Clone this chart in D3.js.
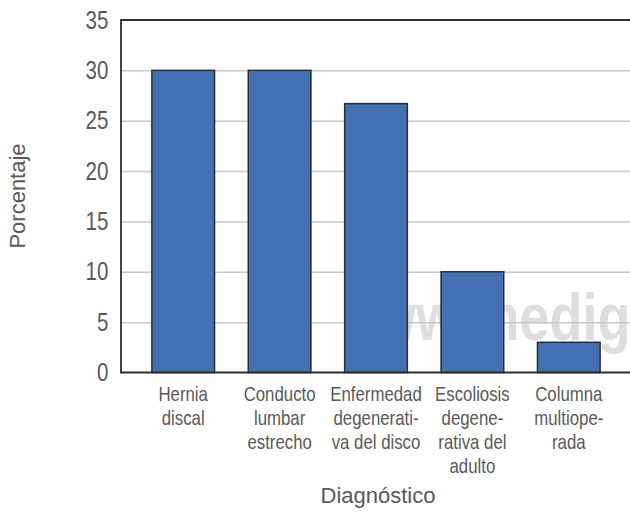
<!DOCTYPE html>
<html>
<head>
<meta charset="utf-8">
<script src="https://cdn.jsdelivr.net/npm/d3@7/dist/d3.min.js"></script>
<style>
  html, body { margin: 0; padding: 0; background: #fff; }
  svg { display: block; }
</style>
</head>
<body>
<script>
// Diagnoses and their share of patients (%)
const categories = [
  ["Hernia", "discal"],
  ["Conducto", "lumbar", "estrecho"],
  ["Enfermedad", "degenerati-", "va del disco"],
  ["Escoliosis", "degene-", "rativa del", "adulto"],
  ["Columna", "multiope-", "rada"]
];
const values = [30, 30, 26.7, 10, 3];
const yTicks = [0, 5, 10, 15, 20, 25, 30, 35];
const yTitle = "Porcentaje";
const xTitle = "Diagnóstico";
const watermark = "ww.medig";

const W = 630, H = 512;
const plot = { left: 121, right: 630, top: 20, bottom: 372.5 };
const textColor = "#595959";
const font = "'Liberation Sans', Arial, sans-serif";
const condense = "scale(0.82,1)";   // narrow face for ticks and labels

const svg = d3.select("body").append("svg")
  .attr("width", W).attr("height", H);

const x = d3.scaleBand()
  .domain(d3.range(categories.length))
  .range([135, 617])
  .paddingInner(0.35)
  .paddingOuter(0.175);

const y = d3.scaleLinear()
  .domain([0, 35])
  .range([plot.bottom, plot.top]);

// faint site mark behind the plot
svg.append("text")
  .attr("transform", `translate(374,340) ${condense}`)
  .attr("font-family", font)
  .attr("font-weight", "bold")
  .attr("font-size", 66)
  .attr("fill", "#dedede")
  .text(watermark);

// horizontal gridlines
const grid = svg.append("g")
  .attr("transform", `translate(${plot.left},0)`)
  .call(d3.axisLeft(y).tickValues(yTicks.filter(d => d > 0 && d < 35))
    .tickSize(-(plot.right - plot.left)).tickFormat(""));
grid.select(".domain").remove();
grid.selectAll("line").attr("stroke", "#c8c8c8").attr("stroke-width", 1.5);

// bars
svg.append("g").selectAll("rect")
  .data(values)
  .join("rect")
  .attr("x", (d, i) => x(i))
  .attr("y", d => y(d))
  .attr("width", x.bandwidth())
  .attr("height", d => y(0) - y(d))
  .attr("fill", "#4470b4")
  .attr("stroke", "#2e2e2e")
  .attr("stroke-width", 1.5);

// plot frame: left, top and bottom edges
svg.append("path")
  .attr("d", `M${plot.right},${y(35)}H${plot.left}V${y(0)}H${plot.right}`)
  .attr("fill", "none")
  .attr("stroke", "#2e2e2e")
  .attr("stroke-width", 1.8);

// y axis tick labels
const yAxis = svg.append("g")
  .attr("transform", `translate(${plot.left},0)`)
  .call(d3.axisLeft(y).tickValues(yTicks).tickSize(0).tickPadding(15.5));
yAxis.select(".domain").remove();
yAxis.selectAll("text")
  .attr("transform", condense)
  .attr("font-family", font)
  .attr("font-size", 25)
  .attr("fill", textColor);

// x axis category labels (multi-line)
const xAxis = svg.append("g")
  .attr("transform", `translate(0,${y(0)})`)
  .call(d3.axisBottom(x).tickSize(0).tickFormat(""));
xAxis.select(".domain").remove();
xAxis.selectAll(".tick").each(function(i) {
  const t = d3.select(this).append("text")
    .attr("transform", condense)
    .attr("font-family", font)
    .attr("font-size", 20.5)
    .attr("fill", textColor)
    .attr("text-anchor", "middle");
  categories[i].forEach((line, k) => {
    t.append("tspan").attr("x", 0).attr("y", 29 + k * 23.8).text(line);
  });
});

// axis titles
svg.append("text")
  .attr("transform", `translate(25,196) rotate(-90)`)
  .attr("text-anchor", "middle")
  .attr("font-family", font)
  .attr("font-size", 22)
  .attr("fill", textColor)
  .text(yTitle);

svg.append("text")
  .attr("x", 378).attr("y", 503)
  .attr("text-anchor", "middle")
  .attr("font-family", font)
  .attr("font-size", 22)
  .attr("fill", textColor)
  .text(xTitle);
</script>
</body>
</html>
